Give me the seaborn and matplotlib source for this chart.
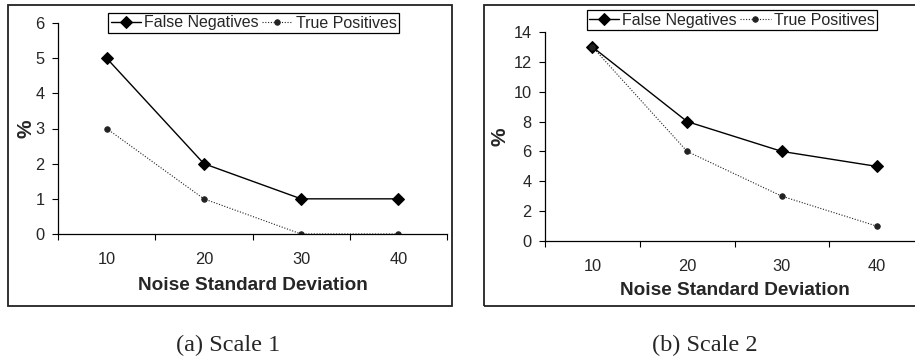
import numpy as np
import pandas as pd
import seaborn as sns
import matplotlib.pyplot as plt
from matplotlib.patches import Rectangle
from matplotlib.ticker import FixedLocator, MultipleLocator

noise_sd = ['10', '20', '30', '40']
scale1_false_neg = [5, 2, 1, 1]
scale1_true_pos = [3, 1, 0, 0]
scale2_false_neg = [13, 8, 6, 5]
scale2_true_pos = [13, 6, 3, 1]

sns.set_style('ticks')
plt.rcParams['font.family'] = ['Liberation Sans', 'DejaVu Sans']

fig = plt.figure(figsize=(9.15, 3.62), dpi=100)

panels = [
    # axes rect, ymax, ystep, border rect, legend anchor, ylabel x, xlabel y, caption
    ([58/915, 1-234/362, 389/915, 211/362], 6, 1,
     (8, 5, 444, 301), (0.503, 1.0), -0.083, -0.246, '(a) Scale 1', 228,
     scale1_false_neg, scale1_true_pos),
    ([545/915, 1-241/362, 379/915, 209/362], 14, 2,
     (484, 5, 460, 301), (0.493, 1.057), -0.118, -0.239, '(b) Scale 2', 705,
     scale2_false_neg, scale2_true_pos),
]

for (rect, ymax, ystep, box, leg_anchor, ylab_x, xlab_y, caption, cap_x,
     fneg, tpos) in panels:
    # excel style outer frame
    bx, by, bw, bh = box
    fig.add_artist(Rectangle((bx/915, 1-(by+bh)/362), bw/915, bh/362,
                             transform=fig.transFigure, fill=False,
                             edgecolor='#222222', lw=1.3))
    ax = fig.add_axes(rect)
    sns.pointplot(x=noise_sd, y=fneg, ax=ax, color='black', errorbar=None,
                  marker='D', markersize=5.7, linewidth=1.0, linestyle='-',
                  label='False Negatives')
    sns.pointplot(x=noise_sd, y=tpos, ax=ax, color='#222222', errorbar=None,
                  marker='o', markersize=4, linewidth=0.8,
                  linestyle=(0, (1, 1.5)), label='True Positives')

    ax.set_xlim(-0.5, len(noise_sd) - 0.5)
    ax.set_ylim(0, ymax)
    ax.yaxis.set_major_locator(MultipleLocator(ystep))
    # category boundaries get the tick marks, labels sit in the middle
    ax.xaxis.set_minor_locator(FixedLocator(np.arange(-0.5, len(noise_sd), 1)))
    ax.tick_params(axis='x', which='major', length=0, pad=13, labelsize=11.8)
    ax.tick_params(axis='x', which='minor', length=4.5, width=0.8, color='black')
    ax.tick_params(axis='y', length=4.5, width=0.8, pad=5, labelsize=11.8,
                   color='black')
    sns.despine(ax=ax)
    for s in ['left', 'bottom']:
        ax.spines[s].set_color('black')
        ax.spines[s].set_linewidth(0.9)

    ax.set_xlabel('Noise Standard Deviation', fontsize=13.7,
                  fontweight='bold', va='center')
    ax.xaxis.set_label_coords(0.5, xlab_y)
    ax.set_ylabel('%', fontsize=15, fontweight='bold', va='center')
    ax.yaxis.set_label_coords(ylab_x, 0.5)

    leg = ax.legend(loc='center', bbox_to_anchor=leg_anchor, ncol=2,
                    fontsize=11.5, frameon=True, fancybox=False,
                    edgecolor='black', framealpha=1, borderpad=0.15,
                    handlelength=1.9, handletextpad=0.2, columnspacing=0.2,
                    borderaxespad=0)
    leg.get_frame().set_linewidth(0.9)

    fig.text(cap_x/915, 1-345/362, caption, ha='center', va='center',
             fontsize=17.5, family=['Liberation Serif', 'DejaVu Serif'])

fig.savefig('out.png', dpi=100)
